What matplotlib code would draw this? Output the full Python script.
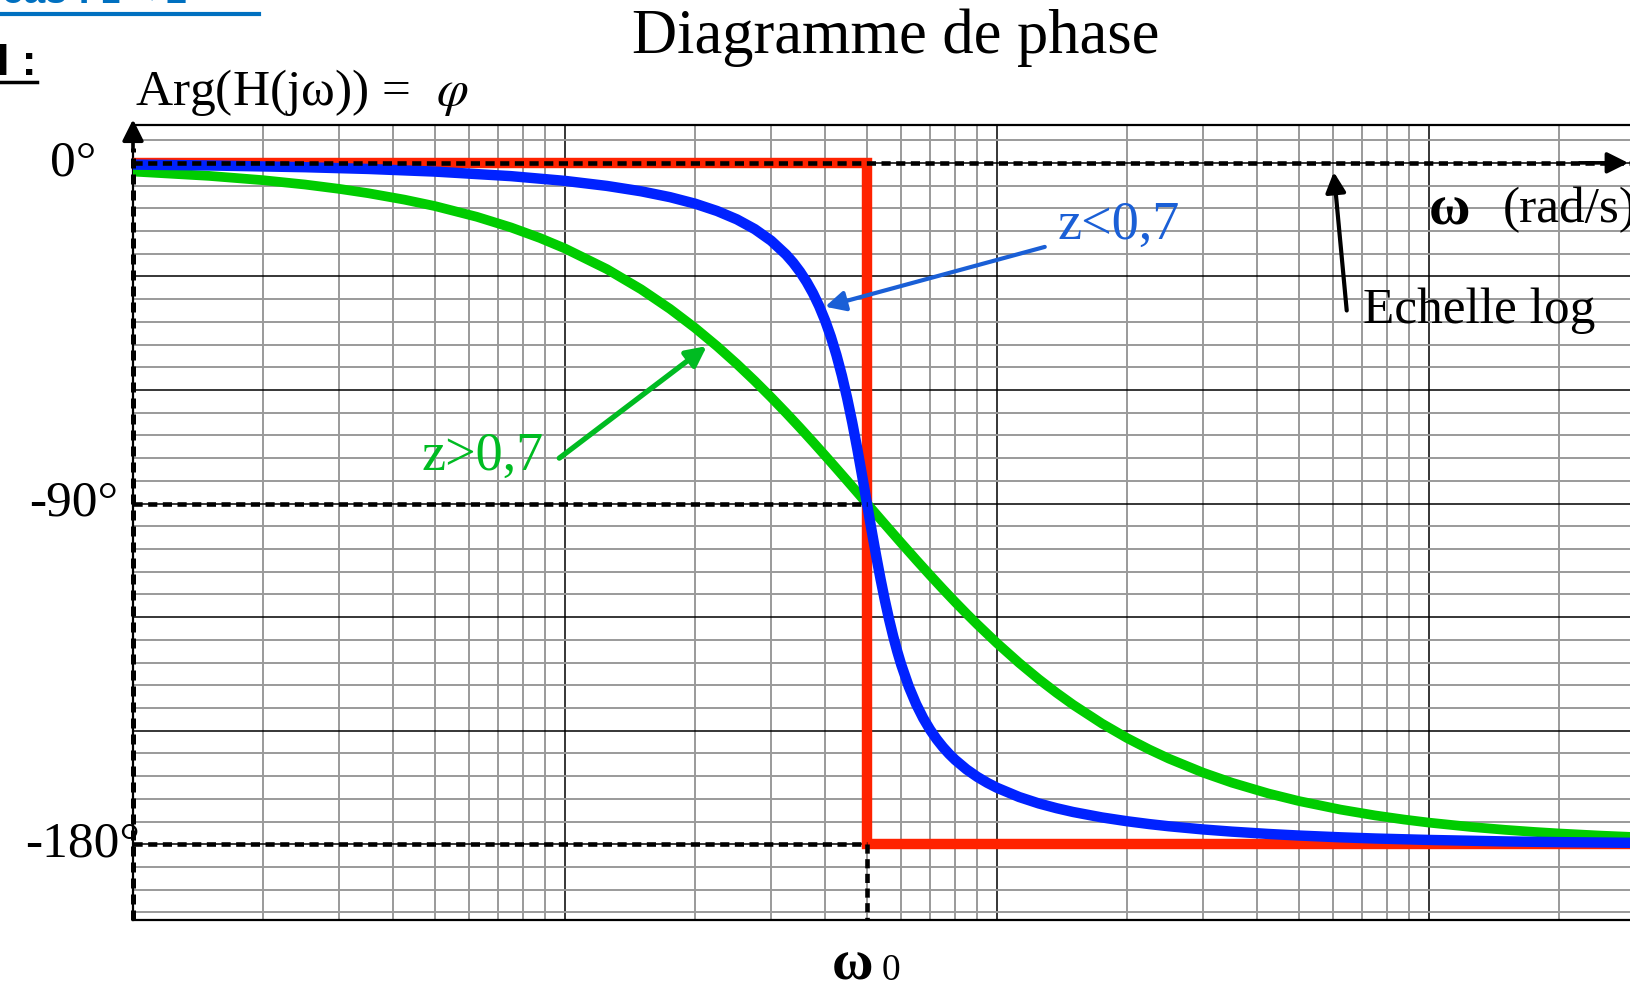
import numpy as np
import matplotlib
matplotlib.use("Agg")
import matplotlib.pyplot as plt
from matplotlib.ticker import MultipleLocator, LogLocator

plt.rcParams['font.family'] = ['Liberation Serif', 'DejaVu Serif']
plt.rcParams['mathtext.fontset'] = 'stix'

# pulsation propre et bornes de l'axe (rad/s)
w0 = 50
w_min, w_max = 1, 2935
phi_min, phi_max = -200, 10

# asymptotes
asym_w = [w_min, w0, w0, w_max]
asym_phi = [0, 0, -180, -180]

# courbe z<0,7
w_low = [1, 1.5, 2.5, 3.5, 5, 7.5, 10, 12.5, 15, 17.5, 20, 22.5, 25, 27.5, 30,
         32.5, 33.75, 35, 36.25, 37.5, 38.75, 40, 41.25, 42.5, 43.75, 45, 46.25,
         47.5, 48.75, 50, 51.25, 52.5, 53.75, 55, 56.25, 57.5, 58.75, 60, 62.5,
         65, 67.5, 70, 72.5, 75, 77.5, 80, 85, 90, 95, 100, 112.5, 125, 137.5,
         150, 175, 200, 225, 250, 300, 350, 425, 500, 625, 750, 1000, 1500, 2000,
         2950]
phi_low = [-0.46, -0.69, -1.15, -1.61, -2.31, -3.51, -4.76, -6.09, -7.51, -9.06,
           -10.78, -12.72, -14.93, -17.51, -20.56, -24.24, -26.38, -28.77, -31.44,
           -34.44, -37.82, -41.63, -45.94, -50.79, -56.19, -62.18, -68.69, -75.61,
           -82.78, -90.0, -97.04, -103.71, -109.90, -115.52, -120.55, -125.03,
           -129.00, -132.51, -138.37, -143.00, -146.71, -149.74, -152.25, -154.36,
           -156.15, -157.69, -160.21, -162.18, -163.77, -165.07, -167.51, -169.22,
           -170.48, -171.47, -172.91, -173.91, -174.66, -175.24, -176.08, -176.66,
           -177.27, -177.69, -178.16, -178.47, -178.85, -179.24, -179.43, -179.61]

# courbe z>0,7
w_high = [1, 1.5, 2, 2.5, 3, 3.5, 4.25, 5, 6.25, 7.5, 8.75, 10, 12.5, 15, 17.5,
          20, 22.5, 25, 27.5, 30, 32.5, 35, 37.5, 40, 42.5, 45, 47.5, 50, 52.5,
          55, 60, 65, 70, 75, 80, 85, 90, 100, 112.5, 125, 137.5, 150, 175, 200,
          225, 250, 300, 350, 425, 500, 625, 750, 875, 1000, 1250, 1500, 1750,
          2000, 2500, 2950]
phi_high = [-2.29, -3.44, -4.58, -5.72, -6.87, -8.01, -9.72, -11.42, -14.25,
            -17.06, -19.85, -22.62, -28.07, -33.40, -38.58, -43.60, -48.46, -53.13,
            -57.62, -61.93, -66.05, -69.98, -73.74, -77.32, -80.73, -83.97, -87.06,
            -90.0, -92.79, -95.45, -100.39, -104.86, -108.92, -112.62, -115.99,
            -119.07, -121.89, -126.87, -132.08, -136.40, -140.03, -143.13, -148.11,
            -151.93, -154.94, -157.38, -161.08, -163.74, -166.58, -168.58, -170.85,
            -172.37, -173.46, -174.28, -175.42, -176.18, -176.73, -177.14, -177.71,
            -178.06]

ytick_vals = [0, -90, -180]
ytick_txt = ['0°', '-90°', '-180°']
ytick_x = [-0.0247, -0.010, 0.0047]

W, H = 1631, 989
fig = plt.figure(figsize=(W / 100, H / 100), dpi=100)
ax = fig.add_axes([133 / W, 69 / H, 1498 / W, 795 / H])
ax.set_xscale('log')
ax.set_xlim(w_min, w_max)
ax.set_ylim(phi_min, phi_max)

# quadrillage semi-log
ax.yaxis.set_major_locator(MultipleLocator(30))
ax.yaxis.set_minor_locator(MultipleLocator(6))
ax.xaxis.set_major_locator(LogLocator(base=10, numticks=10))
ax.xaxis.set_minor_locator(LogLocator(base=10, subs=np.arange(2, 10), numticks=20))
ax.grid(which='minor', color='#9a9a9a', lw=1.4, zorder=0)
ax.grid(which='major', color='black', lw=1.1, zorder=0)
ax.set_axisbelow(True)
ax.tick_params(which='both', length=0, labelleft=False, labelbottom=False)
ax.spines['right'].set_visible(False)
for s in ['top', 'bottom', 'left']:
    ax.spines[s].set_linewidth(1.6)

dash = (0, (2.0, 1.2))
lw_dash = 3.3

# asymptotes et courbes
ax.plot(asym_w, asym_phi, color='#ff2200', lw=7.5, solid_joinstyle='miter',
        solid_capstyle='butt', zorder=3)
ax.plot(w_high, phi_high, color='#00cc00', lw=7, solid_joinstyle='round', zorder=4)
ax.plot(w_low, phi_low, color='#0022ff', lw=7.5, solid_joinstyle='round', zorder=5)

# traits de rappel
ax.plot([w_min, w_max], [0, 0], color='black', lw=lw_dash, ls=dash, zorder=6)
ax.plot([w_min, w0], [-90, -90], color='black', lw=lw_dash, ls=dash, zorder=6)
ax.plot([w_min, w0], [-180, -180], color='black', lw=lw_dash, ls=dash, zorder=6)
ax.plot([w0, w0], [-180, phi_min], color='black', lw=lw_dash, ls=dash, zorder=6,
        clip_on=False)
ax.plot([w_min, w_min], [phi_min, 4], color='black', lw=3.6, ls=dash, zorder=6,
        clip_on=False)

# fleches des axes
ax.annotate('', xy=(w_min, 12.2), xytext=(w_min, 3),
            arrowprops=dict(arrowstyle='-|>', color='black', lw=2.6, mutation_scale=32),
            annotation_clip=False, zorder=7)
ax.annotate('', xy=(w_max, 0), xytext=(2200, 0),
            arrowprops=dict(arrowstyle='-|>', color='black', lw=2.6, mutation_scale=32),
            annotation_clip=False, zorder=7)

# graduations de phase
for v, t, xf in zip(ytick_vals, ytick_txt, ytick_x):
    ax.text(xf, v, t, transform=ax.get_yaxis_transform(), ha='right', va='center',
            fontsize=37, clip_on=False)

# titres et legendes
fig.text(896 / W, 1 - 38 / H, 'Diagramme de phase', ha='center', va='center',
         fontsize=45)
fig.text(135 / W, 1 - 92 / H, 'Arg(H(jω)) =  $\\varphi$', ha='left', va='center',
         fontsize=37)
ax.text(1000, -12.5, 'ω', ha='left', va='center', fontsize=41, fontweight='bold')
ax.text(1480, -12.5, '(rad/s)', ha='left', va='center', fontsize=37)
ax.text(46.4, -212, 'ω', ha='center', va='center', fontsize=41, fontweight='bold',
        clip_on=False)
ax.text(54.2, -213.5, '0', ha='left', va='center', fontsize=27, clip_on=False)


def fleche(tail, head, color, lw):
    ax.annotate('', xy=head, xytext=tail,
                arrowprops=dict(arrowstyle='-|>', color=color, lw=lw,
                                mutation_scale=30, shrinkA=0, shrinkB=0),
                zorder=8)


ax.text(703, -39, 'Echelle log', ha='left', va='center', fontsize=37)
fleche((645, -39), (602, -2.4), 'black', 3)

ax.text(138, -16.6, 'z<0,7', ha='left', va='center', fontsize=39, color='#1a5fd6')
fleche((129, -22.2), (40, -38), '#1a5fd6', 3)

ax.text(8.9, -77.5, 'z>0,7', ha='right', va='center', fontsize=39, color='#00bb22')
fleche((9.7, -78), (21.3, -48.4), '#00bb22', 3.8)

# en-tete de page
fig.text(2 / W, 1 - 3 / H, 'cas : z < 1', ha='left', va='baseline', fontsize=28,
         color='#0070c0', fontweight='bold', family='Liberation Sans')
fig.add_artist(plt.Line2D([0, 259 / W], [1 - 13.5 / H, 1 - 13.5 / H],
                          color='#0070c0', lw=3, transform=fig.transFigure))
fig.text(-3 / W, 1 - 75 / H, 'I :', ha='left', va='baseline', fontsize=32,
         color='black', fontweight='bold', family='Liberation Sans')
fig.add_artist(plt.Line2D([0, 37 / W], [1 - 82 / H, 1 - 82 / H],
                          color='black', lw=2.5, transform=fig.transFigure))

fig.savefig('out.png', dpi=100)
